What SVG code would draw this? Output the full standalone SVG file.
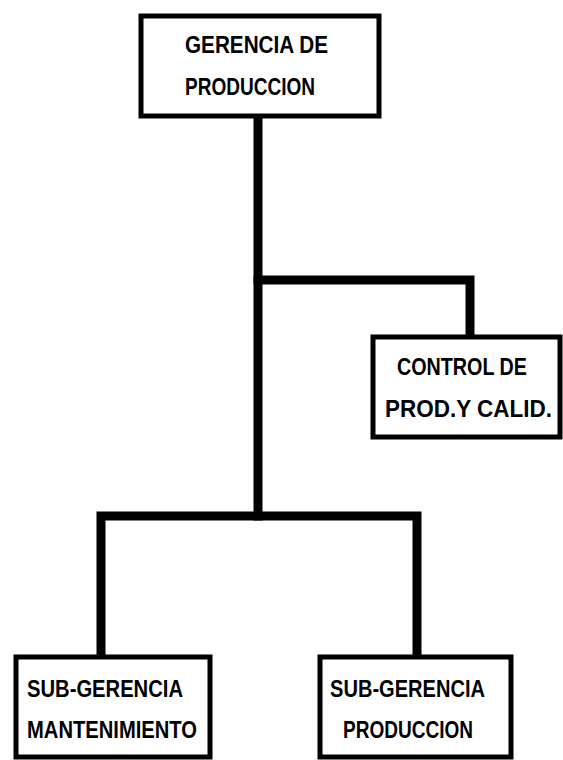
<svg xmlns="http://www.w3.org/2000/svg" width="563" height="760" viewBox="0 0 563 760">
<style>
.box{fill:#fff;stroke:#000;stroke-width:5}
.ln{fill:none;stroke:#000;stroke-width:9;stroke-linecap:square;stroke-linejoin:miter}
.t{font-family:"Liberation Sans",Arial,sans-serif;font-weight:bold;font-size:24px;fill:#000}
</style>
<rect width="563" height="760" fill="#fff"/>
<g id="connectors">
<path class="ln" d="M258,118 V516"/>
<path class="ln" d="M258,280 H470 V334"/>
<path class="ln" d="M101,653 V516 H417 V653"/>
</g>
<g id="gerencia">
<rect class="box" x="141" y="16" width="238" height="100"/>
<text class="t" x="185" y="53" textLength="143" lengthAdjust="spacingAndGlyphs">GERENCIA DE</text>
<text class="t" x="185" y="95" textLength="130" lengthAdjust="spacingAndGlyphs">PRODUCCION</text>
</g>
<g id="control">
<rect class="box" x="373" y="337" width="187" height="100"/>
<text class="t" x="397" y="375" textLength="130" lengthAdjust="spacingAndGlyphs">CONTROL DE</text>
<text class="t" x="385" y="417" textLength="167" lengthAdjust="spacingAndGlyphs">PROD.Y CALID.</text>
</g>
<g id="sub-mantenimiento">
<rect class="box" x="16" y="657" width="194" height="100"/>
<text class="t" x="27" y="697" textLength="156" lengthAdjust="spacingAndGlyphs">SUB-GERENCIA</text>
<text class="t" x="27" y="738" textLength="170" lengthAdjust="spacingAndGlyphs">MANTENIMIENTO</text>
</g>
<g id="sub-produccion">
<rect class="box" x="320" y="657" width="191" height="100"/>
<text class="t" x="330" y="697" textLength="155" lengthAdjust="spacingAndGlyphs">SUB-GERENCIA</text>
<text class="t" x="343" y="738" textLength="130" lengthAdjust="spacingAndGlyphs">PRODUCCION</text>
</g>
</svg>
